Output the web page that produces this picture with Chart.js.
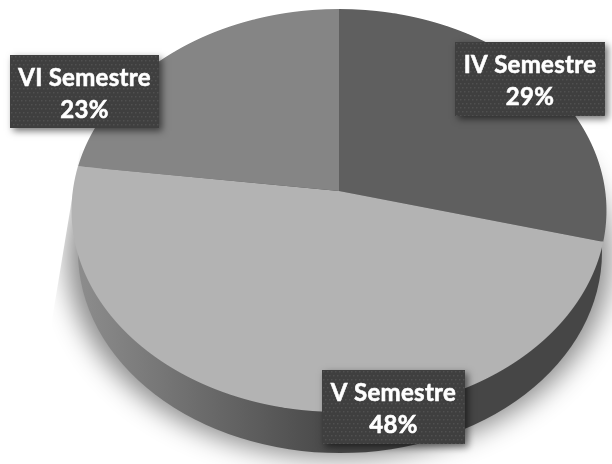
<!DOCTYPE html>
<html><head><meta charset="utf-8">
<style>html,body{margin:0;padding:0;background:#fff}#w{width:612px;height:464px}</style>
<script src="https://cdn.jsdelivr.net/npm/chart.js@4"></script></head>
<body><div id="w"><canvas id="c" width="612" height="464"></canvas></div>
<script>
const categories = ["IV Semestre", "V Semestre", "VI Semestre"];
const percents = [29, 48, 23];
const sliceColors = ["#5f5f5f", "#b3b3b3", "#858585"];

// perspective of the tilted disc, in screen pixels
const P = {cx:339, cy:191, B:266.2, A:199.6, k:0.0968};
const WALL = {cx:340, cy:252, rx:262, ry:201};
const BOXES = [
  {x:455,y:42,w:150,h:74},
  {x:322,y:370,w:143,h:74},
  {x:10,y:55,w:149,h:73}
];
const FONT = 'bold 24px Lato';

const tilt = {
  id:'tilt',
  beforeDatasetsDraw(chart){
    const ctx = chart.ctx, arcs = chart.getDatasetMeta(0).data;
    // soft shadow only: the casting shape sits off-canvas
    ctx.save();
    ctx.beginPath();
    ctx.moveTo(80,150); ctx.lineTo(52,320); ctx.lineTo(30,464);
    ctx.lineTo(612,464); ctx.lineTo(612,150); ctx.closePath(); ctx.clip();
    ctx.shadowColor='rgba(0,0,0,0.45)'; ctx.shadowBlur=26; ctx.shadowOffsetX=2000;
    ctx.fillStyle='#000';
    ctx.beginPath(); ctx.ellipse(P.cx-2000,WALL.cy+5,WALL.rx+10,WALL.ry,0,0,Math.PI*2); ctx.fill();
    ctx.restore();
    // side wall
    ctx.save();
    const g = ctx.createLinearGradient(70,0,340,0);
    g.addColorStop(0,'#8f8f8f'); g.addColorStop(1,'#464646');
    ctx.fillStyle=g;
    ctx.beginPath(); ctx.ellipse(WALL.cx,WALL.cy,WALL.rx,WALL.ry,0,0,Math.PI*2); ctx.fill();
    ctx.restore();
    // face, drawn row by row by the library's arcs
    const a0 = arcs[0], R = a0.outerRadius;
    for(let Y=0;Y<464;Y++){
      const dy = Y+0.5-P.cy;
      const v = dy/(P.A+P.k*dy);
      if(v<-1.02||v>1.02) continue;
      const w = 1/(1-P.k*v);
      const sx = P.B*w/R, sy = P.A*w*w/R;
      ctx.save();
      ctx.beginPath(); ctx.rect(0,Y,612,1); ctx.clip();
      ctx.setTransform(sx,0,0,sy,P.cx-a0.x*sx,(Y+0.5)-(a0.y+v*R)*sy);
      arcs.forEach(a=>a.draw(ctx));
      ctx.restore();
    }
    return false;
  },
  afterDraw(chart){
    const ctx = chart.ctx;
    BOXES.forEach((b,i)=>{
      ctx.save();
      ctx.shadowColor='rgba(0,0,0,0.55)'; ctx.shadowBlur=7; ctx.shadowOffsetX=3; ctx.shadowOffsetY=3;
      ctx.fillStyle='#3f3f3f'; ctx.fillRect(b.x,b.y,b.w,b.h);
      ctx.restore();
      ctx.save();
      ctx.beginPath(); ctx.rect(b.x,b.y,b.w,b.h); ctx.clip();
      ctx.fillStyle='rgba(255,255,255,0.09)';
      for(let y=b.y+1,r=0;y<b.y+b.h;y+=4,r++)
        for(let x=b.x+1+(r%2?2:0);x<b.x+b.w;x+=4) ctx.fillRect(x,y,1.5,1.5);
      ctx.restore();
      ctx.save();
      ctx.font=FONT; ctx.fillStyle='#fff'; ctx.strokeStyle='#fff'; ctx.lineWidth=0.6;
      ctx.letterSpacing='0.3px'; ctx.textAlign='center'; ctx.textBaseline='middle';
      [[categories[i],23],[percents[i]+'%',55]].forEach(([t,dy])=>{
        ctx.fillText(t,b.x+b.w/2,b.y+dy);
        ctx.strokeText(t,b.x+b.w/2,b.y+dy);
      });
      ctx.restore();
    });
  }
};

new Chart(document.getElementById('c'),{
  type:'pie',
  data:{labels:categories,datasets:[{data:percents,backgroundColor:sliceColors,borderWidth:0}]},
  options:{responsive:false,animation:false,events:[],layout:{padding:0},
    plugins:{legend:{display:false},tooltip:{enabled:false}}},
  plugins:[tilt]
});
</script></body></html>
